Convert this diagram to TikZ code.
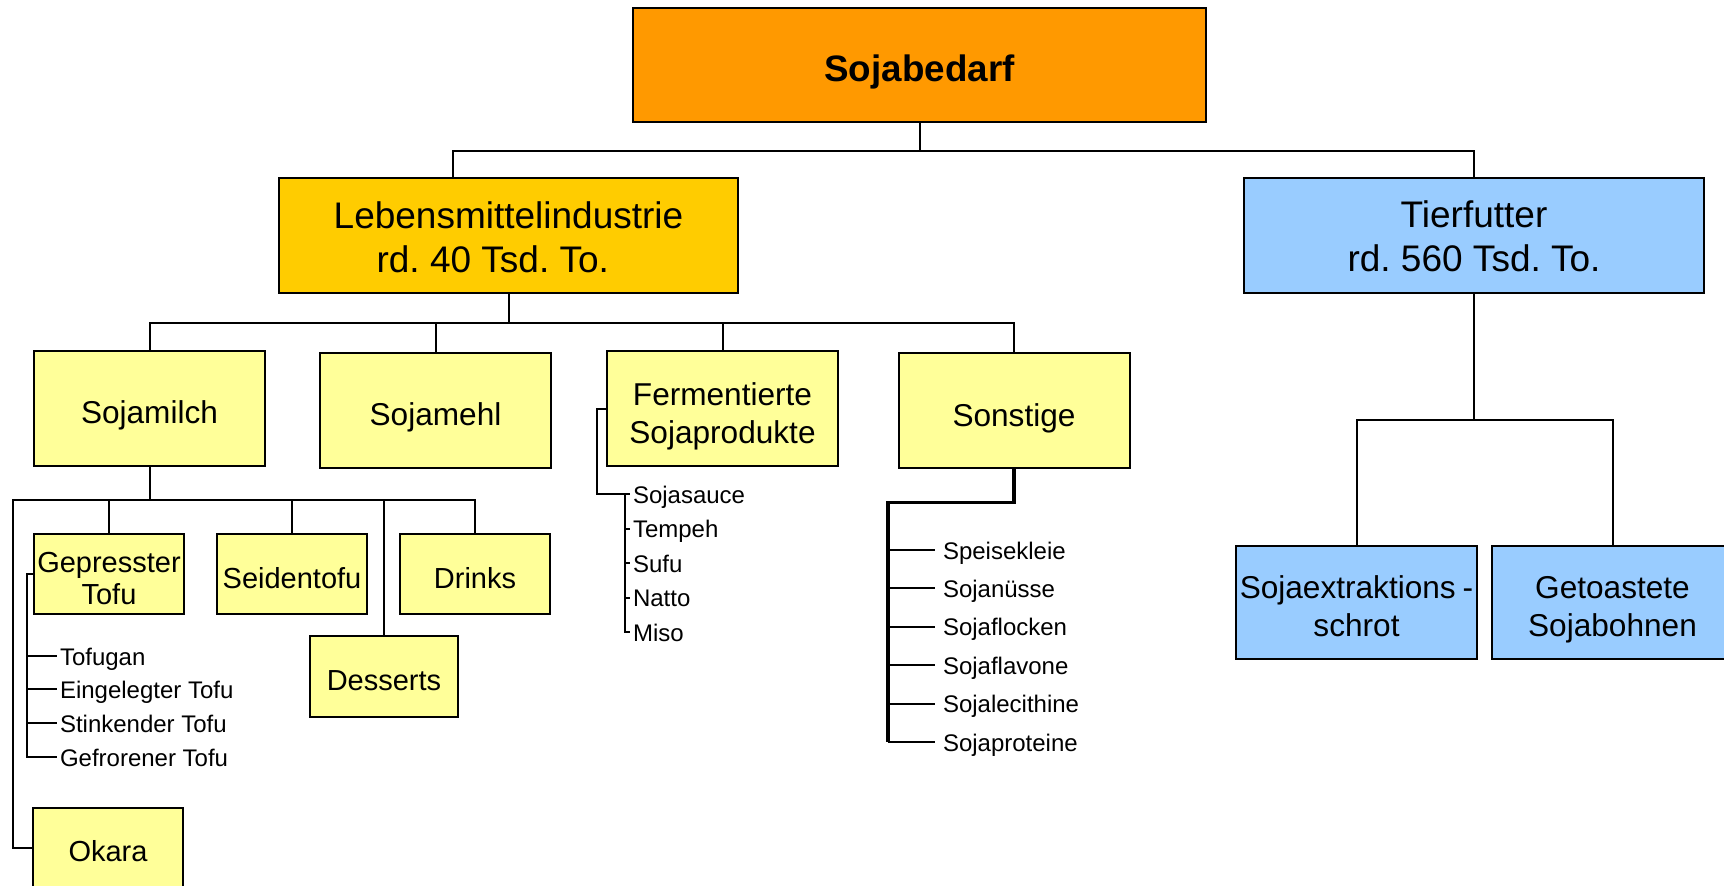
\documentclass[tikz,border=0pt]{standalone}
\usepackage{fontspec}
\setmainfont{Liberation Sans}
\frenchspacing

\definecolor{bedarf}{HTML}{FF9900}
\definecolor{lebens}{HTML}{FFCC00}
\definecolor{futter}{HTML}{99CCFF}
\definecolor{produkt}{HTML}{FFFF99}

\tikzset{
  bigbox/.style={draw, line width=1pt, fill=#1, inner sep=2pt, align=center, text depth=0pt,
    minimum width=229.5pt, minimum height=57.5pt, font=\fontsize{18.5}{22}\selectfont},
  midbox/.style={draw, line width=1pt, fill=#1, inner sep=2pt, align=center, text depth=0pt,
    text height=15pt, minimum width=115.5pt, minimum height=57.5pt, font=\fontsize{15.8}{19}\selectfont},
  smallbox/.style={draw, line width=1pt, fill=produkt, inner sep=1pt, align=center, text depth=0pt,
    text height=14pt, minimum width=74.75pt, minimum height=40pt, font=\fontsize{14.5}{16}\selectfont},
  item/.style={anchor=west, inner sep=1pt, text height=9pt, text depth=0pt,
    font=\fontsize{12}{14}\selectfont}
}

\begin{document}
\begin{tikzpicture}[x=0.5pt, y=-0.5pt, line width=1pt]
    \useasboundingbox (0,0) rectangle (1724,885);

    % Draw the main boxes
    \node[bigbox=bedarf, minimum width=286.5pt, minimum height=57.25pt, text height=16.2pt,
      font=\bfseries\fontsize{18.4}{22}\selectfont] (bedarf) at (919.5,64.8) {Sojabedarf};
    \node[bigbox=lebens, text height=37.2pt] (lebens) at (508.5,235.5) {Lebensmittelindustrie\\rd. 40 Tsd. To.\hspace*{0.85em}};
    \node[bigbox=futter, minimum width=230pt, text height=35.5pt] (futter) at (1474,235.5) {Tierfutter\\rd. 560 Tsd. To.};

    % Draw the product groups
    \node[midbox=produkt, text height=14.8pt] (milch) at (149.5,408.5) {Sojamilch};
    \node[midbox=produkt] (mehl) at (435.5,410) {Sojamehl};
    \node[midbox=produkt, text height=35pt] (ferm) at (722.5,408.5) {Fermentierte\\Sojaprodukte};
    \node[midbox=produkt, text height=16pt] (sonst) at (1014,410) {Sonstige};
    \node[midbox=futter, minimum width=120.5pt, minimum height=56.5pt, text height=34.2pt] (extr) at (1356.5,602.5) {Sojaextraktions\hspace{0.22em}-\\schrot};
    \node[midbox=futter, minimum width=121pt, minimum height=56.5pt, text height=34.2pt] (toast) at (1612.5,602.5) {Getoastete\\Sojabohnen};

    % Draw the soy milk products
    \node[smallbox, text height=30pt] (gepr) at (109,574) {Gepresster\\Tofu};
    \node[smallbox] (seid) at (292,574) {Seidentofu};
    \node[smallbox] (drinks) at (475,574) {Drinks};
    \node[smallbox, minimum width=74pt, minimum height=40.5pt, text height=13.5pt] (dess) at (384,676.5) {Desserts};
    \node[smallbox, text height=13pt] (okara) at (108,848) {Okara};

    % Draw the item lists
    \node[item] (tofugan) at (57,656) {Tofugan};
    \node[item] (eingelegt) at (57,689) {Eingelegter Tofu};
    \node[item] (stinkend) at (57,723) {Stinkender Tofu};
    \node[item] (gefroren) at (57,757) {Gefrorener Tofu};

    \node[item] (sauce) at (630,494) {Sojasauce};
    \node[item] (tempeh) at (630,528.5) {Tempeh};
    \node[item] (sufu) at (630,563) {Sufu};
    \node[item] (natto) at (630,597.5) {Natto};
    \node[item] (miso) at (630,632) {Miso};

    \node[item] (speise) at (940,550) {Speisekleie};
    \node[item] (nuesse) at (940,588.4) {Sojanüsse};
    \node[item] (flocken) at (940,626.8) {Sojaflocken};
    \node[item] (flavone) at (940,665.2) {Sojaflavone};
    \node[item] (lecithine) at (940,703.6) {Sojalecithine};
    \node[item] (proteine) at (940,742) {Sojaproteine};

    % Draw the top level connectors
    \draw (bedarf.south) -- ++(0,28) -| ([xshift=-27.75pt]lebens.north);
    \draw (bedarf.south) -- ++(0,28) -| (futter.north);

    % Draw the food industry connectors
    \foreach \n in {milch,mehl,ferm,sonst}
        \draw (lebens.south) -- ++(0,29) -| (\n.north);

    % Draw the soy milk connectors
    \foreach \n in {gepr,seid,dess,drinks}
        \draw (milch.south) -- ++(0,33) -| (\n.north);
    \draw (milch.south) -- ++(0,33) -- ++(-136.5,0) |- (okara.west);

    \foreach \n in {tofugan,eingelegt,stinkend,gefroren}
        \draw (gepr.west) -- ++(-6,0) |- (\n.west);

    % Draw the fermented products bracket
    \draw (ferm.west) -- ++(-9,0) |- (sauce.west);
    \foreach \n in {tempeh,sufu,natto,miso}
        \draw ([xshift=-2.5pt]sauce.west) |- (\n.west);

    % Draw the other products bracket
    \draw[line width=1.6pt] (sonst.south) -- ++(0,34) -| ([xshift=-26pt]proteine.west);
    \foreach \n in {speise,nuesse,flocken,flavone,lecithine,proteine}
        \draw ([xshift=-26pt]\n.west) -- ([xshift=-2.5pt]\n.west);

    % Draw the animal feed connectors
    \foreach \n in {extr,toast}
        \draw (futter.south) -- ++(0,126) -| (\n.north);
\end{tikzpicture}
\end{document}
